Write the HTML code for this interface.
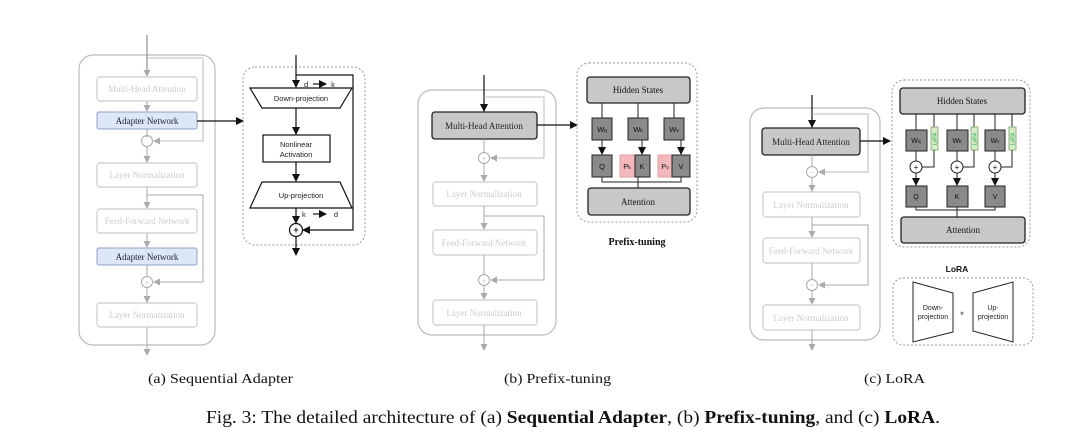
<!DOCTYPE html>
<html><head><meta charset="utf-8"><style>
html,body{margin:0;padding:0;background:#fff;}
svg{display:block}
.s{font-family:"Liberation Serif",serif}
.a{font-family:"Liberation Sans",sans-serif}
</style></head><body>
<svg width="1080" height="444" viewBox="0 0 1080 444" xmlns="http://www.w3.org/2000/svg">
<defs>
<marker id="ah" markerWidth="8" markerHeight="8" refX="7" refY="4" orient="auto" markerUnits="userSpaceOnUse"><path d="M0,0 L8,4 L0,8 z" fill="#111"/></marker>
<marker id="ag" markerWidth="7" markerHeight="7" refX="6" refY="3.5" orient="auto" markerUnits="userSpaceOnUse"><path d="M0,0 L7,3.5 L0,7 z" fill="#aaa"/></marker>
</defs>
<rect width="1080" height="444" fill="#fff"/>

<!-- ===== Panel (a) ===== -->
<rect x="79" y="55" width="136" height="290" rx="14" fill="none" stroke="#bbb" stroke-width="1.2"/>
<line x1="147" y1="35" x2="147" y2="76" stroke="#777" stroke-width="1" marker-end="url(#ag)"/>
<polyline points="147,58 203,58 203,141 154,141" fill="none" stroke="#bbb" marker-end="url(#ag)"/>
<g fill="none" stroke="#ccc" stroke-width="1.2">
<rect x="97" y="77" width="100" height="24" rx="3"/>
<rect x="97" y="163" width="100" height="24" rx="3"/>
<rect x="97" y="209" width="100" height="24" rx="3"/>
<rect x="97" y="303" width="100" height="24" rx="3"/>
</g>
<rect x="97" y="112" width="100" height="17" rx="2" fill="#dde6f5" stroke="#8fa3c8"/>
<rect x="97" y="248" width="100" height="17" rx="2" fill="#dde6f5" stroke="#8fa3c8"/>
<g stroke="#aaa" fill="none">
<line x1="147" y1="101" x2="147" y2="111" marker-end="url(#ag)"/>
<line x1="147" y1="129" x2="147" y2="135"/>
<circle cx="147" cy="141" r="5.5" fill="#fff"/>
<line x1="147" y1="147" x2="147" y2="162" marker-end="url(#ag)"/>
<line x1="147" y1="187" x2="147" y2="208" marker-end="url(#ag)"/>
<polyline points="147,195 203,195 203,282 154,282" marker-end="url(#ag)"/>
<line x1="147" y1="233" x2="147" y2="247" marker-end="url(#ag)"/>
<line x1="147" y1="265" x2="147" y2="276"/>
<circle cx="147" cy="282" r="5.5" fill="#fff"/>
<line x1="147" y1="288" x2="147" y2="302" marker-end="url(#ag)"/>
<line x1="147" y1="327" x2="147" y2="355" marker-end="url(#ag)"/>
</g>
<g class="s" font-size="9" text-anchor="middle">
<text x="147" y="92" fill="#ccc">Multi-Head Attention</text>
<text x="147" y="124" fill="#223">Adapter Network</text>
<text x="147" y="178" fill="#ccc">Layer Normalization</text>
<text x="147" y="224" fill="#ccc">Feed-Forward Network</text>
<text x="147" y="260" fill="#223">Adapter Network</text>
<text x="147" y="318" fill="#ccc">Layer Normalization</text>
<text x="147" y="139" font-size="7" fill="#aaa">+</text>
<text x="147" y="285" font-size="7" fill="#aaa">+</text>
</g>
<line x1="197" y1="121" x2="243" y2="121" stroke="#111" stroke-width="1.2" marker-end="url(#ah)"/>

<rect x="243" y="67" width="122" height="178" rx="12" fill="none" stroke="#999" stroke-dasharray="2,2"/>
<g stroke="#111" stroke-width="1.2" fill="none">
<line x1="296" y1="55" x2="296" y2="87" marker-end="url(#ah)"/>
<polyline points="296,75 353,75 353,230 303,230" marker-end="url(#ah)"/>
<polygon points="250,88 352,88 340,108 262,108" fill="#fff"/>
<line x1="296" y1="108" x2="296" y2="134" marker-end="url(#ah)"/>
<rect x="263" y="135" width="67" height="27" fill="#fff"/>
<line x1="296" y1="162" x2="296" y2="181" marker-end="url(#ah)"/>
<polygon points="262,182 340,182 352,208 250,208" fill="#fff"/>
<line x1="296" y1="208" x2="296" y2="223" marker-end="url(#ah)"/>
<circle cx="296" cy="230" r="6.5" fill="#fff"/>
<line x1="296" y1="237" x2="296" y2="255" marker-end="url(#ah)"/>
<line x1="313" y1="84" x2="326" y2="84" marker-end="url(#ah)"/>
<line x1="313" y1="214" x2="326" y2="214" marker-end="url(#ah)"/>
</g>
<g class="a" font-size="7.5" fill="#222" text-anchor="middle">
<text x="301" y="101">Down-projection</text>
<text x="296" y="147">Nonlinear</text>
<text x="296" y="157">Activation</text>
<text x="301" y="198">Up-projection</text>
<text x="304" y="87" text-anchor="start">d</text><text x="333" y="87">k</text>
<text x="302" y="217" text-anchor="start">k</text><text x="336" y="217">d</text>
<text x="296" y="233" font-size="9" font-weight="bold">+</text>
</g>

<!-- ===== Panel (b) ===== -->
<rect x="418" y="90" width="138" height="245" rx="14" fill="none" stroke="#bbb" stroke-width="1.2"/>
<line x1="484" y1="75" x2="484" y2="111" stroke="#111" stroke-width="1.2" marker-end="url(#ah)"/>
<polyline points="484,97 544,97 544,158 491,158" fill="none" stroke="#bbb" marker-end="url(#ag)"/>
<rect x="432" y="112" width="105" height="27" rx="3" fill="#c8c8c8" stroke="#222" stroke-width="1.3"/>
<g fill="none" stroke="#ccc" stroke-width="1.2">
<rect x="433" y="182" width="104" height="24" rx="3"/>
<rect x="433" y="230" width="104" height="25" rx="3"/>
<rect x="433" y="300" width="104" height="25" rx="3"/>
</g>
<g stroke="#aaa" fill="none">
<line x1="484" y1="139" x2="484" y2="152"/>
<circle cx="484" cy="158" r="5.5" fill="#fff"/>
<line x1="484" y1="164" x2="484" y2="181" marker-end="url(#ag)"/>
<line x1="484" y1="206" x2="484" y2="229" marker-end="url(#ag)"/>
<polyline points="484,216 544,216 544,280 491,280" marker-end="url(#ag)"/>
<line x1="484" y1="255" x2="484" y2="274"/>
<circle cx="484" cy="280" r="5.5" fill="#fff"/>
<line x1="484" y1="286" x2="484" y2="299" marker-end="url(#ag)"/>
<line x1="484" y1="325" x2="484" y2="350" marker-end="url(#ag)"/>
</g>
<g class="s" font-size="9" text-anchor="middle">
<text x="484" y="129" fill="#222">Multi-Head Attention</text>
<text x="484" y="197" fill="#ccc">Layer Normalization</text>
<text x="484" y="246" fill="#ccc">Feed-Forward Network</text>
<text x="484" y="316" fill="#ccc">Layer Normalization</text>
<text x="484" y="161" font-size="7" fill="#aaa">+</text>
<text x="484" y="283" font-size="7" fill="#aaa">+</text>
</g>
<line x1="537" y1="125" x2="577" y2="125" stroke="#111" stroke-width="1.2" marker-end="url(#ah)"/>

<rect x="577" y="63" width="120" height="159" rx="12" fill="none" stroke="#999" stroke-dasharray="2,2"/>
<rect x="587" y="77" width="103" height="26" rx="3" fill="#c8c8c8" stroke="#222" stroke-width="1.3"/>
<rect x="588" y="188" width="102" height="27" rx="3" fill="#c8c8c8" stroke="#222" stroke-width="1.3"/>
<g stroke="#222" stroke-width="1">
<line x1="602" y1="103" x2="602" y2="118"/><line x1="638" y1="103" x2="638" y2="118"/><line x1="674" y1="103" x2="674" y2="118"/>
<rect x="592" y="118" width="20" height="22" fill="#8a8a8a"/>
<rect x="628" y="118" width="20" height="22" fill="#8a8a8a"/>
<rect x="664" y="118" width="20" height="22" fill="#8a8a8a"/>
<line x1="602" y1="140" x2="602" y2="154" marker-end="url(#ah)"/>
<line x1="642" y1="140" x2="642" y2="154" marker-end="url(#ah)"/>
<line x1="681" y1="140" x2="681" y2="154" marker-end="url(#ah)"/>
<rect x="592" y="155" width="20" height="22" fill="#8a8a8a"/>
<rect x="620" y="155" width="15" height="22" fill="#f2b8bc" stroke="#e8a0a6"/>
<rect x="635" y="155" width="15" height="22" fill="#8a8a8a"/>
<rect x="658" y="155" width="14" height="22" fill="#f2b8bc" stroke="#e8a0a6"/>
<rect x="672" y="155" width="18" height="22" fill="#8a8a8a"/>
<polyline points="602,177 602,182 681,182 681,177" fill="none"/>
<line x1="638" y1="177" x2="638" y2="188"/>
</g>
<g class="a" font-size="7.5" fill="#111" text-anchor="middle">
<text x="638" y="93" class="s" font-size="9">Hidden States</text>
<text x="638" y="205" class="s" font-size="9">Attention</text>
<text x="602" y="132">W<tspan font-size="5">q</tspan></text>
<text x="638" y="132">W<tspan font-size="5">k</tspan></text>
<text x="674" y="132">W<tspan font-size="5">v</tspan></text>
<text x="602" y="169">Q</text><text x="627" y="169">P<tspan font-size="5">k</tspan></text><text x="642" y="169">K</text>
<text x="665" y="169">P<tspan font-size="5">v</tspan></text><text x="681" y="169">V</text>
</g>
<text x="637" y="245" class="s" font-size="10" font-weight="bold" text-anchor="middle" fill="#111">Prefix-tuning</text>

<!-- ===== Panel (c) ===== -->
<rect x="750" y="108" width="130" height="232" rx="14" fill="none" stroke="#bbb" stroke-width="1.2"/>
<line x1="812" y1="95" x2="812" y2="127" stroke="#111" stroke-width="1.2" marker-end="url(#ah)"/>
<polyline points="812,114 868,114 868,172 819,172" fill="none" stroke="#bbb" marker-end="url(#ag)"/>
<rect x="762" y="128" width="98" height="27" rx="3" fill="#c8c8c8" stroke="#222" stroke-width="1.3"/>
<g fill="none" stroke="#ccc" stroke-width="1.2">
<rect x="763" y="192" width="97" height="25" rx="3"/>
<rect x="763" y="238" width="97" height="25" rx="3"/>
<rect x="763" y="305" width="97" height="25" rx="3"/>
</g>
<g stroke="#aaa" fill="none">
<line x1="812" y1="155" x2="812" y2="166"/>
<circle cx="812" cy="172" r="5.5" fill="#fff"/>
<line x1="812" y1="178" x2="812" y2="191" marker-end="url(#ag)"/>
<line x1="812" y1="217" x2="812" y2="237" marker-end="url(#ag)"/>
<polyline points="812,225 868,225 868,285 819,285" marker-end="url(#ag)"/>
<line x1="812" y1="263" x2="812" y2="279"/>
<circle cx="812" cy="285" r="5.5" fill="#fff"/>
<line x1="812" y1="291" x2="812" y2="304" marker-end="url(#ag)"/>
<line x1="812" y1="330" x2="812" y2="350" marker-end="url(#ag)"/>
</g>
<g class="s" font-size="9" text-anchor="middle">
<text x="811" y="145" fill="#222">Multi-Head Attention</text>
<text x="811" y="208" fill="#ccc">Layer Normalization</text>
<text x="811" y="254" fill="#ccc">Feed-Forward Network</text>
<text x="811" y="321" fill="#ccc">Layer Normalization</text>
<text x="812" y="175" font-size="7" fill="#aaa">−</text>
<text x="812" y="288" font-size="7" fill="#aaa">−</text>
</g>
<line x1="860" y1="141" x2="890" y2="141" stroke="#111" stroke-width="1.2" marker-end="url(#ah)"/>

<rect x="892" y="80" width="138" height="167" rx="12" fill="none" stroke="#999" stroke-dasharray="2,2"/>
<rect x="900" y="88" width="125" height="26" rx="3" fill="#c8c8c8" stroke="#222" stroke-width="1.3"/>
<rect x="901" y="217" width="124" height="26" rx="3" fill="#c8c8c8" stroke="#222" stroke-width="1.3"/>
<g stroke="#222" stroke-width="1" fill="none">
<line x1="916" y1="114" x2="916" y2="130"/><line x1="934" y1="114" x2="934" y2="127"/>
<line x1="957" y1="114" x2="957" y2="130"/><line x1="974" y1="114" x2="974" y2="127"/>
<line x1="995" y1="114" x2="995" y2="130"/><line x1="1012" y1="114" x2="1012" y2="127"/>
<rect x="906" y="130" width="21" height="21" fill="#8a8a8a"/>
<rect x="947" y="130" width="21" height="21" fill="#8a8a8a"/>
<rect x="985" y="130" width="20" height="21" fill="#8a8a8a"/>
<rect x="931" y="127" width="7" height="23" fill="#d7ecc8" stroke="#8fb07a"/>
<rect x="971" y="127" width="7" height="23" fill="#d7ecc8" stroke="#8fb07a"/>
<rect x="1009" y="127" width="7" height="23" fill="#d7ecc8" stroke="#8fb07a"/>
<polyline points="934,150 934,167 922,167"/><polyline points="974,150 974,167 963,167"/><polyline points="1012,150 1012,167 1001,167"/>
<line x1="916" y1="151" x2="916" y2="161"/><line x1="957" y1="151" x2="957" y2="161"/><line x1="995" y1="151" x2="995" y2="161"/>
<circle cx="916" cy="167" r="6" fill="#fff"/><circle cx="957" cy="167" r="6" fill="#fff"/><circle cx="995" cy="167" r="6" fill="#fff"/>
<line x1="916" y1="173" x2="916" y2="185" marker-end="url(#ah)"/>
<line x1="957" y1="173" x2="957" y2="185" marker-end="url(#ah)"/>
<line x1="995" y1="173" x2="995" y2="185" marker-end="url(#ah)"/>
<rect x="906" y="186" width="21" height="21" fill="#8a8a8a"/>
<rect x="947" y="186" width="21" height="21" fill="#8a8a8a"/>
<rect x="985" y="186" width="20" height="21" fill="#8a8a8a"/>
<polyline points="916,207 916,210 995,210 995,207"/>
<line x1="957" y1="207" x2="957" y2="217"/>
</g>
<g class="a" font-size="7" fill="#111" text-anchor="middle">
<text x="962" y="104" class="s" font-size="9">Hidden States</text>
<text x="963" y="233" class="s" font-size="9">Attention</text>
<text x="916" y="143">W<tspan font-size="5">q</tspan></text>
<text x="957" y="143">W<tspan font-size="5">k</tspan></text>
<text x="995" y="143">W<tspan font-size="5">v</tspan></text>
<text x="916" y="199">Q</text><text x="957" y="199">K</text><text x="995" y="199">V</text>
<text x="916" y="170" font-size="8">+</text><text x="957" y="170" font-size="8">+</text><text x="995" y="170" font-size="8">+</text>
<text font-size="5" transform="translate(936.5,139) rotate(-90)" fill="#2a5">LoRA</text>
<text font-size="5" transform="translate(976.5,139) rotate(-90)" fill="#2a5">LoRA</text>
<text font-size="5" transform="translate(1014.5,139) rotate(-90)" fill="#2a5">LoRA</text>
</g>
<text x="957" y="272" class="a" font-size="8.5" font-weight="bold" text-anchor="middle" fill="#111">LoRA</text>
<rect x="893" y="278" width="140" height="67" rx="10" fill="none" stroke="#999" stroke-dasharray="2,2"/>
<g stroke="#222" stroke-width="1" fill="#fff">
<polygon points="913,282 953,293 953,332 913,342"/>
<polygon points="973,293 1013,282 1013,342 973,331"/>
</g>
<g class="a" font-size="7" fill="#222" text-anchor="middle">
<text x="933" y="310">Down-</text><text x="933" y="319">projection</text>
<text x="993" y="310">Up-</text><text x="993" y="319">projection</text>
<text x="962" y="318" font-size="9">*</text>
</g>

<!-- captions -->
<g class="s" fill="#111">
<text x="148" y="383" font-size="14" textLength="145" lengthAdjust="spacingAndGlyphs">(a) Sequential Adapter</text>
<text x="504" y="383" font-size="14" textLength="107" lengthAdjust="spacingAndGlyphs">(b) Prefix-tuning</text>
<text x="864" y="383" font-size="14" textLength="61" lengthAdjust="spacingAndGlyphs">(c) LoRA</text>
<text x="206" y="423" font-size="18" textLength="734" lengthAdjust="spacingAndGlyphs">Fig. 3: The detailed architecture of (a) <tspan font-weight="bold">Sequential Adapter</tspan>, (b) <tspan font-weight="bold">Prefix-tuning</tspan>, and (c) <tspan font-weight="bold">LoRA</tspan>.</text>
</g>
</svg>
</body></html>
